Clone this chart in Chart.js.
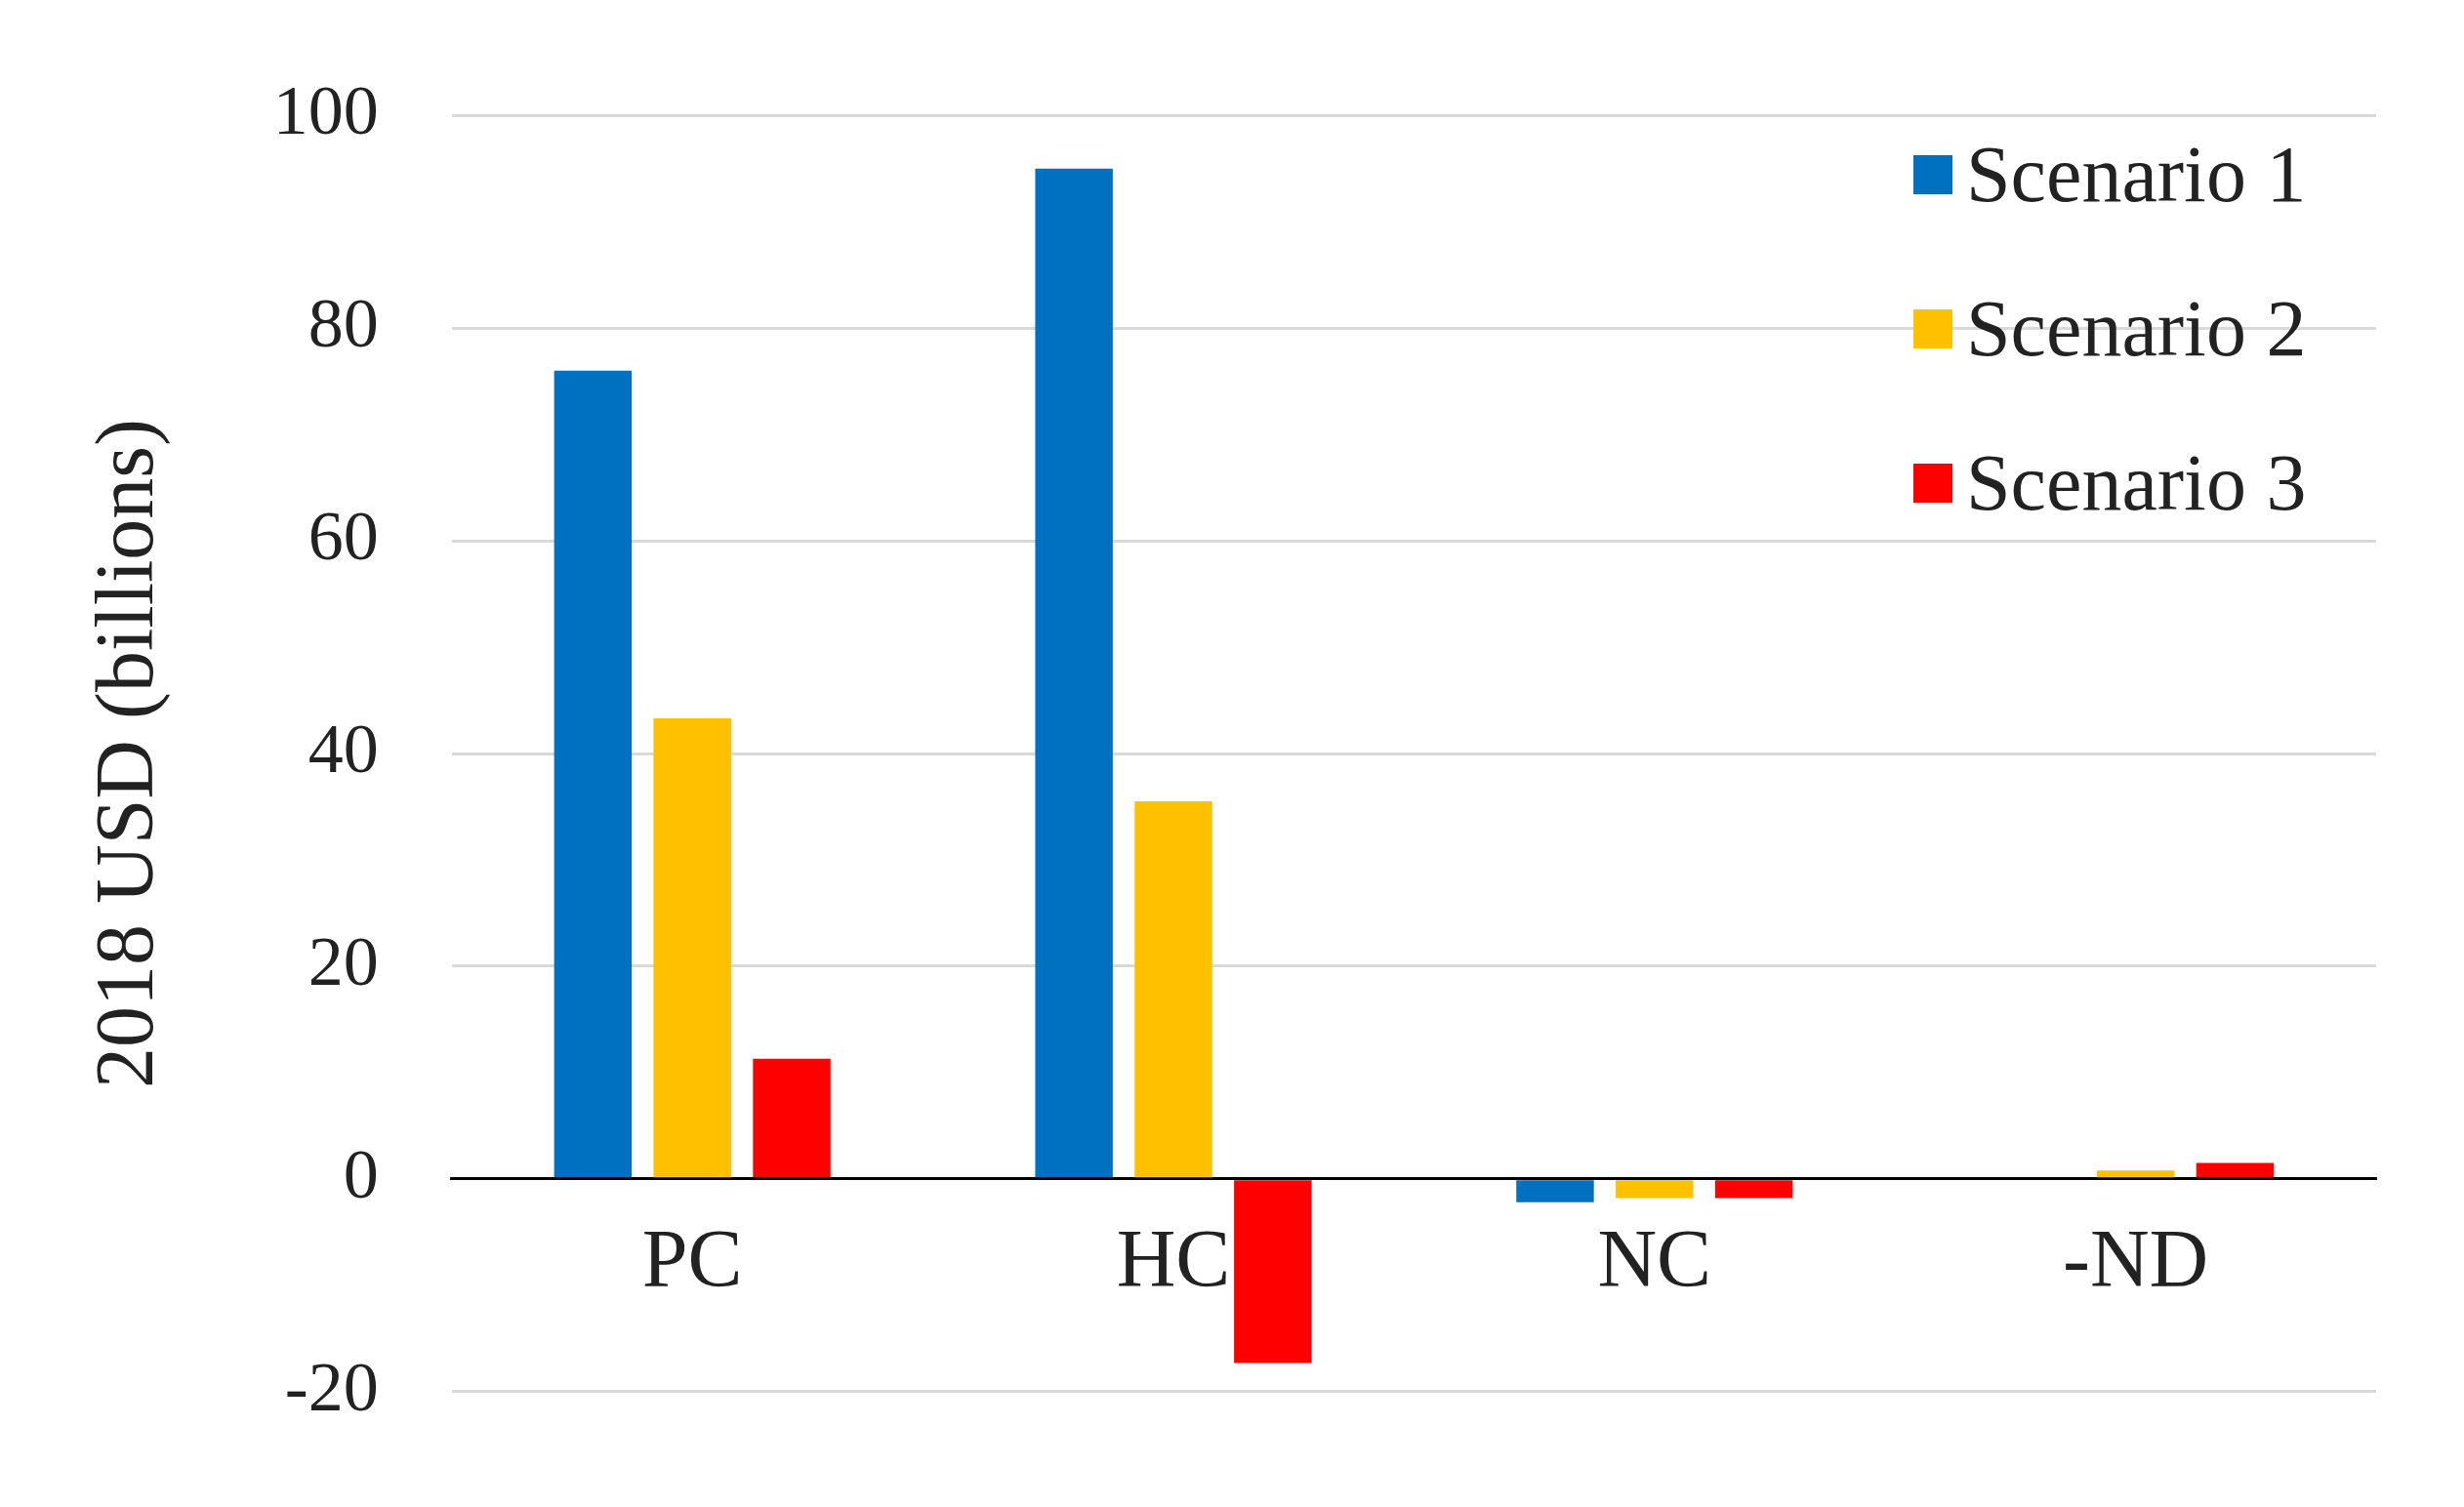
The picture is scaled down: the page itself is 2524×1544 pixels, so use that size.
<!DOCTYPE html>
<html><head><meta charset="utf-8">
<script src="https://cdn.jsdelivr.net/npm/chart.js@4"></script>
<style>
html,body{margin:0;padding:0;background:#fff;}
#wrap{position:relative;width:2524px;height:1544px;}
#legend{position:absolute;left:1960px;top:100px;font-family:"Liberation Serif",serif;font-size:82px;color:#222;}
#legend div{display:flex;align-items:center;height:158px;}
#legend span{display:inline-block;width:40px;height:40px;margin-right:14px;}
</style></head>
<body><div id="wrap"><canvas id="c" width="2524" height="1544"></canvas>
<div id="legend"></div></div>
<script>
const categories = ["PC","HC","NC","-ND"];
const seriesNames = ["Scenario 1","Scenario 2","Scenario 3"];
const scenario1 = [76, 95, -2.2, 0];
const scenario2 = [43.3, 35.5, -1.8, 0.8];
const scenario3 = [11.3, -17.3, -1.8, 1.5];
const colors = ["#0070C0","#FFC000","#FF0000"];
const yTicks = [-20,0,20,40,60,80,100];

const lg=document.getElementById('legend');
seriesNames.forEach((n,i)=>{const d=document.createElement('div');d.innerHTML='<span style="background:'+colors[i]+'"></span>'+n;lg.appendChild(d);});

const big={family:"Liberation Serif",size:84};
const mid={family:"Liberation Serif",size:72};
new Chart(document.getElementById('c'),{
 type:'bar',
 data:{labels:categories,datasets:[scenario1,scenario2,scenario3].map((d,i)=>({label:seriesNames[i],data:d,backgroundColor:colors[i],categoryPercentage:0.62,barPercentage:0.78}))},
 options:{responsive:false,animation:false,
  layout:{padding:{top:100,right:90,bottom:60,left:80}},
  plugins:{legend:{display:false},tooltip:{enabled:false}},
  scales:{
   x:{position:{y:0},grid:{display:false},border:{color:'#000',width:3},ticks:{color:'#222',font:big,padding:30}},
   y:{min:-20,max:100,afterBuildTicks:a=>{a.ticks=yTicks.map(v=>({value:v}));},
      grid:{color:c=>c.tick&&c.tick.value===0?'#000':'#d9d9d9',lineWidth:3,drawTicks:false},
      border:{display:false},
      ticks:{color:'#222',font:mid,padding:75},
      title:{display:true,text:'2018 USD (billions)',color:'#222',font:big,padding:{bottom:20}}}
  }}
});
</script></body></html>
